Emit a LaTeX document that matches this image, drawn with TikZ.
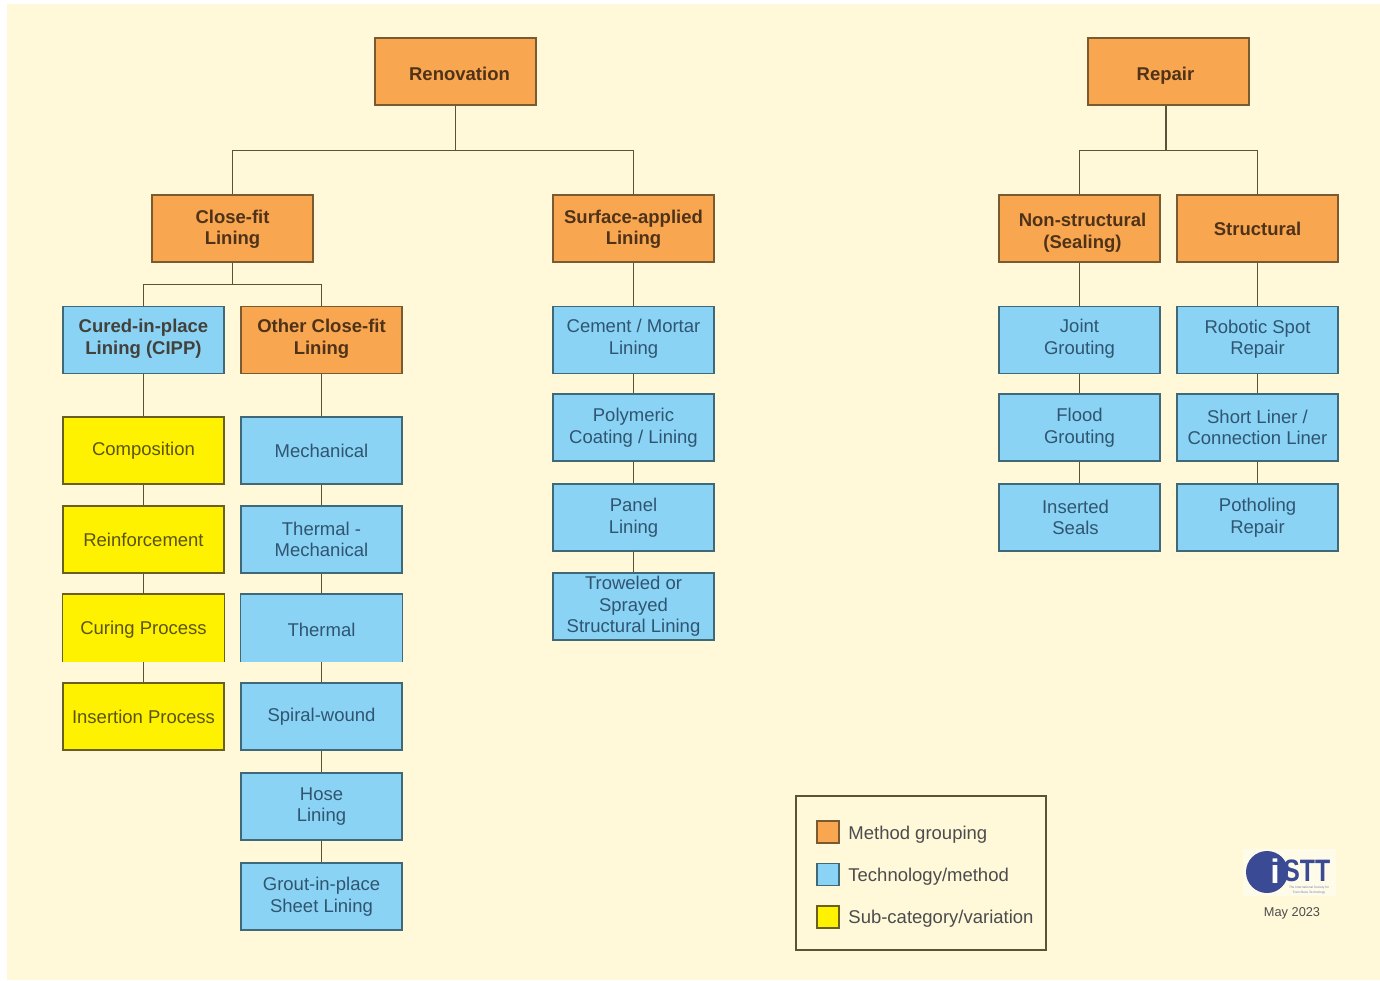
\documentclass[tikz,border=0pt]{standalone}
\usepackage{fontspec}
\setmainfont{Liberation Sans}
\definecolor{cream}{HTML}{FFF9DA}
\definecolor{boxline}{HTML}{5C5238}
\definecolor{groupline}{HTML}{7A5A30}
\definecolor{techline}{HTML}{3F6878}
\definecolor{subline}{HTML}{6A5F20}
\definecolor{groupfill}{HTML}{F9A650}
\definecolor{techfill}{HTML}{8AD3F5}
\definecolor{subfill}{HTML}{FFF200}
\definecolor{grouptext}{HTML}{4F3319}
\definecolor{techtext}{HTML}{2F5570}
\definecolor{subtext}{HTML}{5A5410}
\definecolor{istt}{HTML}{3A4A94}
\newcommand{\nudge}[2]{\raisebox{#1}[\height][\depth]{#2}}
\begin{document}
\begin{tikzpicture}[x=0.5pt,y=-0.5pt,node distance=44.75pt,
block/.style = {rectangle, draw, line width=0.65pt, minimum height=33.5pt, minimum width=80.5pt, inner sep=0pt, align=center, font=\fontsize{9.25}{10.75}\selectfont},
group/.style = {block, draw=groupline, fill=groupfill, text=grouptext, font=\fontsize{9.25}{10.9}\selectfont\bfseries},
tech/.style = {block, draw=techline, fill=techfill, text=techtext},
sub/.style = {block, draw=subline, fill=subfill, text=subtext},
link/.style = {draw=boxline, line width=0.65pt},
swatch/.style = {rectangle, line width=0.65pt, minimum size=11pt, inner sep=0pt},
keytext/.style = {anchor=west, inner sep=0pt, text=black!70, font=\fontsize{9.25}{10.75}\selectfont}
]
\useasboundingbox (0,0) rectangle (1380,980);
\fill[cream] (7,4) rectangle (1380,980);

%top level
\node (renovation)[group] at (455.5,71.5) {\hspace*{4pt}\nudge{-1pt}{Renovation}};
\node (repair)[group] at (1168.5,71.5) {\nudge{-2pt}{Repair}\hspace*{3pt}};
\node (closefit)[group] at (232.5,228.5) {\nudge{-0.4pt}{Close-fit}\\\nudge{-0.4pt}{Lining}};
\node (surface)[group,right of=closefit, xshift=155.75pt]{\nudge{-0.4pt}{Surface-applied}\\\nudge{-0.4pt}{Lining}};
\node (nonstruct)[group] at (1079.5,228.5) {\hspace*{3pt}\nudge{-2pt}{Non-structural}\\\hspace*{3pt}\nudge{-2pt}{(Sealing)}};
\node (struct)[group,right of=nonstruct, xshift=44.25pt]{Structural};

%close-fit column
\node (cipp)[tech,text=grouptext!60!techtext,font=\fontsize{9.25}{10.75}\selectfont\bfseries] at (143.5,340) {\nudge{0.5pt}{Cured-in-place}\\\nudge{0.5pt}{Lining (CIPP)}};
\node (other)[group,right of=cipp, xshift=44.25pt]{\nudge{0.5pt}{Other Close-fit}\\\nudge{0.5pt}{Lining}};
\node (composition)[sub,below of=cipp, yshift=-10.5pt]{Composition};
\node (reinforcement)[sub,below of=composition, yshift=0.25pt]{Reinforcement};
\node (curing)[sub,draw=none,below of=reinforcement, yshift=0.5pt]{\nudge{-0.75pt}{Curing Process}};
\node (insertion)[sub,below of=curing, yshift=0.5pt]{Insertion Process};
\node (mechanical)[tech,below of=other, yshift=-10.5pt]{Mechanical};
\node (thermalmech)[tech,below of=mechanical, yshift=0.25pt]{Thermal -\\Mechanical};
\node (thermal)[tech,draw=none,below of=thermalmech, yshift=0.5pt]{\nudge{-1pt}{Thermal}};
\node (spiral)[tech,below of=thermal, yshift=0.5pt]{Spiral-wound};
\node (hose)[tech,below of=spiral, yshift=-0.25pt]{Hose\\Lining};
\node (grout)[tech,below of=hose, yshift=-0.25pt]{Grout-in-place\\Sheet Lining};

%surface-applied column
\node (cement)[tech] at (633.5,340) {\nudge{0.75pt}{Cement / Mortar}\\\nudge{0.75pt}{Lining}};
\node (polymeric)[tech,below of=cement, yshift=1pt]{Polymeric\\Coating / Lining};
\node (panel)[tech,below of=polymeric, yshift=-0.25pt]{Panel\\Lining};
\node (troweled)[tech,below of=panel, yshift=0.25pt]{Troweled or\\Sprayed\\Structural Lining};

%repair columns
\node (joint)[tech] at (1079.5,340) {\nudge{0.75pt}{Joint}\\\nudge{0.75pt}{Grouting}};
\node (flood)[tech,below of=joint, yshift=1pt]{Flood\\Grouting};
\node (seals)[tech,below of=flood, yshift=-0.25pt]{Inserted\hspace*{4pt}\\Seals\hspace*{4pt}};
\node (robotic)[tech,right of=joint, xshift=44.25pt]{\nudge{0.5pt}{Robotic Spot}\\\nudge{0.5pt}{Repair}};
\node (shortliner)[tech,below of=robotic, yshift=1pt]{Short Liner /\\Connection Liner};
\node (potholing)[tech,below of=shortliner, yshift=-0.25pt]{Potholing\\Repair};

%open bottom edges
\draw[subline, line width=0.65pt] (curing.south west) -- (curing.north west) -- (curing.north east) -- (curing.south east);
\draw[techline, line width=0.65pt] (thermal.south west) -- (thermal.north west) -- (thermal.north east) -- (thermal.south east);

%tree connectors
\draw[link] (renovation.south) -- ++(0,45) -| (closefit.north);
\draw[link] (renovation.south) -- ++(0,45) -| (surface.north);
\draw[link] ([xshift=-1.25pt]repair.south) -- ++(0,45) -| (nonstruct.north);
\draw[link] ([xshift=-1.25pt]repair.south) -- ++(0,45) -| (struct.north);
\draw[link] (closefit.south) -- ++(0,22) -| (cipp.north);
\draw[link] (closefit.south) -- ++(0,22) -| (other.north);
\foreach \from/\to in {cipp/composition,composition/reinforcement,reinforcement/curing,curing/insertion,
other/mechanical,mechanical/thermalmech,thermalmech/thermal,thermal/spiral,spiral/hose,hose/grout,
surface/cement,cement/polymeric,polymeric/panel,panel/troweled,
nonstruct/joint,joint/flood,flood/seals,struct/robotic,robotic/shortliner,shortliner/potholing}
\draw[link] (\from.south) -- (\to.north);

%legend
\node (legend)[rectangle, draw=boxline, line width=0.65pt, minimum width=125pt, minimum height=77pt] at (921,873) {};
\node (keygroup)[swatch,draw=groupline,fill=groupfill] at (828,832) {};
\node (keytech)[swatch,draw=techline,fill=techfill] at (828,874.5) {};
\node (keysub)[swatch,draw=subline,fill=subfill] at (828,917) {};
\node (keygrouptext)[keytext] at (848,835) {Method grouping};
\node (keytechtext)[keytext] at (848,877) {Technology/method};
\node (keysubtext)[keytext] at (848,919) {Sub-category/variation};

%logo
\fill[white!40!cream] (1243,849) rectangle (1336,896);
\fill[istt] (1267,872) circle (10.5pt);
\node (logoi)[inner sep=0pt, text=white, font=\fontsize{17}{17}\selectfont\bfseries] at (1275,871) {i};
\node (logostt)[inner sep=0pt, text=istt, font=\fontsize{15.5}{15.5}\selectfont\bfseries, anchor=west] at (1283,871) {\scalebox{0.8}[1]{STT}};
\node (logotext)[inner sep=0pt, text=istt!70, align=center, font=\fontsize{1.6}{2.2}\selectfont] at (1309,890) {The International Society for\\Trenchless Technology};
\node (date)[inner sep=0pt, text=black!70, font=\fontsize{6.4}{8}\selectfont] at (1292,913) {May 2023};
\end{tikzpicture}
\end{document}
